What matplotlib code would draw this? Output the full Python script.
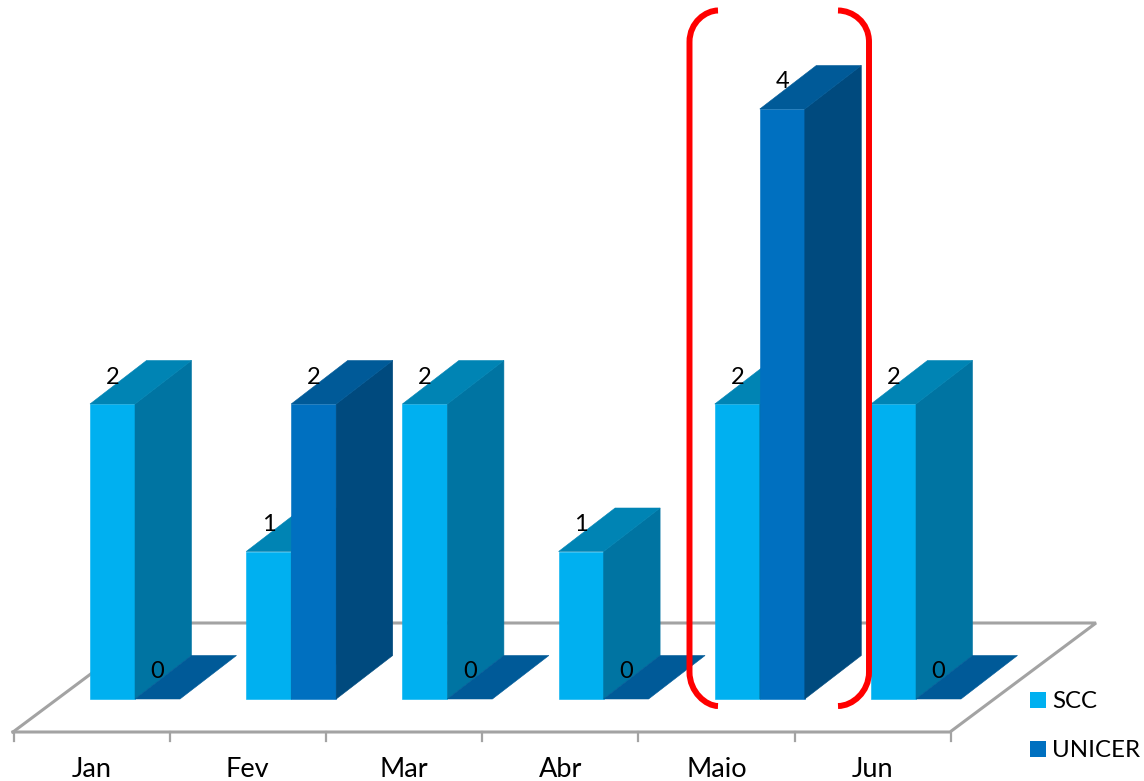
#!/usr/bin/env python3
"""Monthly SCC / UNICER counts as a pseudo-3D column chart."""

from __future__ import annotations

import matplotlib

matplotlib.use("Agg")
import matplotlib.pyplot as plt
from matplotlib.patches import PathPatch, Polygon, Rectangle
from matplotlib.path import Path

MONTHS = ["Jan", "Fev", "Mar", "Abr", "Maio", "Jun"]
SCC = [2, 1, 2, 1, 2, 2]
UNICER = [0, 2, 0, 0, 4, 0]

BASE_Y = 699.0
UNIT = 147.5
BAR_W = 45.0
STEP = 156.2
FIRST_X = 90.0
DEPTH_X = 56.5
DEPTH_Y = 43.5

SCC_COLORS = ("#00b0f0", "#0084b4", "#0074a2")
UNICER_COLORS = ("#0070c0", "#005a98", "#004a7e")
EDGE = "#a3a3a3"
FONT = "Lato"


def draw_column(ax, x, value, colors):
    front, top, side = colors
    h = value * UNIT
    y = BASE_Y - h
    # same-colour hairline closes the antialiasing seams between faces
    if value > 0:
        ax.add_patch(Rectangle((x, y), BAR_W, h, fc=front, ec=front, lw=0.4, zorder=3))
        ax.add_patch(Polygon(
            [(x + BAR_W, y), (x + BAR_W + DEPTH_X, y - DEPTH_Y),
             (x + BAR_W + DEPTH_X, BASE_Y - DEPTH_Y), (x + BAR_W, BASE_Y)],
            fc=side, ec=side, lw=0.4, zorder=3))
    ax.add_patch(Polygon(
        [(x, y), (x + DEPTH_X, y - DEPTH_Y),
         (x + BAR_W + DEPTH_X, y - DEPTH_Y), (x + BAR_W, y)],
        fc=top, ec=top, lw=0.4, zorder=3))
    ax.text(x + 22.5, y - 27, str(value), ha="center", va="center",
            fontsize=17, family=FONT, color="black", zorder=5)


def draw_floor(ax):
    ax.plot([13, 159], [732, 623], color=EDGE, lw=2.2, zorder=1)
    ax.plot([159, 1096, 950, 13], [623, 623, 732, 732], color=EDGE, lw=2.2,
            solid_joinstyle="miter", zorder=1)
    for i in range(len(MONTHS) + 1):
        tx = 13.5 + i * STEP
        ax.plot([tx, tx], [732, 741], color=EDGE, lw=1.6, zorder=1)
    for i, name in enumerate(MONTHS):
        ax.text(13.5 + (i + 0.5) * STEP, 769.5, name, ha="center", va="center",
                fontsize=19.5, family=FONT, color="black")


def draw_bracket(ax):
    codes = [Path.MOVETO, Path.LINETO, Path.CURVE4, Path.CURVE4, Path.CURVE4,
             Path.LINETO, Path.CURVE4, Path.CURVE4, Path.CURVE4, Path.LINETO]
    for edge, sign, tip in [(689.5, 1, 718), (869, -1, 838)]:
        r = 30 * sign
        verts = [
            (tip, 10.5), (tip, 10.5),
            (edge + 0.55 * r, 10.5), (edge, 22), (edge, 42),
            (edge, 672),
            (edge, 692), (edge + 0.55 * r, 706), (tip, 706),
            (tip, 706),
        ]
        ax.add_patch(PathPatch(Path(verts, codes), fc="none", ec="#ff0000",
                               lw=4.3, capstyle="butt", zorder=6))


def draw_legend(ax):
    for y, name, color in [(700, "SCC", SCC_COLORS[0]),
                           (749, "UNICER", UNICER_COLORS[0])]:
        ax.add_patch(Rectangle((1030, y - 8), 16, 16, fc=color, ec="none"))
        ax.text(1052, y + 1.5, name, ha="left", va="center", fontsize=17.3,
                family=FONT, color="black")


def main() -> None:
    fig = plt.figure(figsize=(11.44, 7.81), dpi=100)
    ax = fig.add_axes([0, 0, 1, 1])
    ax.set_xlim(0, 1144)
    ax.set_ylim(781, 0)
    ax.axis("off")

    draw_floor(ax)
    for i in range(len(MONTHS)):
        x = FIRST_X + i * STEP
        draw_column(ax, x, SCC[i], SCC_COLORS)
        draw_column(ax, x + BAR_W, UNICER[i], UNICER_COLORS)
    draw_bracket(ax)
    draw_legend(ax)

    fig.savefig("out.png", dpi=100)
    plt.close(fig)


if __name__ == "__main__":
    main()
